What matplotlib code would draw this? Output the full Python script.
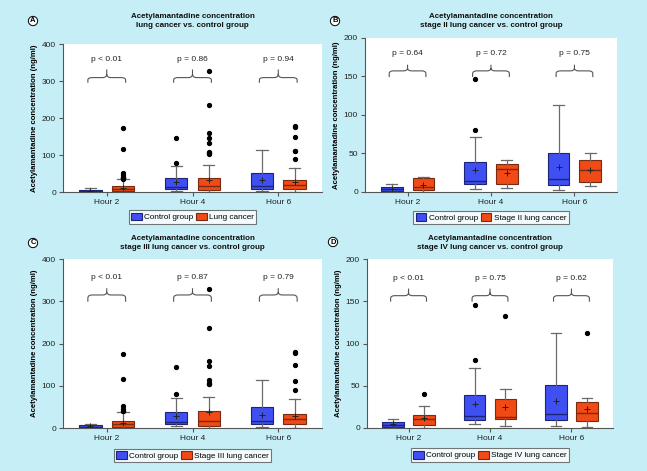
import matplotlib
matplotlib.use("Agg")
import matplotlib.pyplot as plt
from matplotlib.path import Path
from matplotlib.patches import PathPatch, Patch

plt.rcParams['font.family'] = ['Liberation Sans', 'DejaVu Sans']

# ---------------- data ----------------
hours = ["Hour 2", "Hour 4", "Hour 6"]

# control group (same in every panel)
ctrl_whislo = [0.5, 4.5, 2.5]
ctrl_q1 = [1.5, 10, 9.5]
ctrl_med = [3.5, 14, 17]
ctrl_q3 = [7, 39, 51]
ctrl_whishi = [11, 71, 113]
ctrl_mean = [4.5, 28.5, 32]
ctrl_fliers = [[], [80, 146], []]

# A: all lung cancer
lc_whislo = [0.5, 1, 2]
lc_q1 = [3, 6, 9]
lc_med = [8, 18, 21]
lc_q3 = [16, 38, 34]
lc_whishi = [35, 75, 67]
lc_mean = [12, 34, 29]
lc_fliers = [[173, 116, 53, 47, 42, 40, 39, 38, 37],
             [328, 236, 159, 148, 132, 110, 107, 105, 103],
             [180, 177, 150, 112, 111, 90]]
lc_p = ["p < 0.01", "p = 0.86", "p = 0.94"]

# B: stage II
s2_whislo = [0, 4.7, 8]
s2_q1 = [2, 10.6, 12.4]
s2_med = [6.3, 29.7, 28]
s2_q3 = [17.6, 36, 41.3]
s2_whishi = [20, 41, 51]
s2_mean = [9, 24.5, 28]
s2_fliers = [[], [], []]
s2_p = ["p = 0.64", "p = 0.72", "p = 0.75"]

# C: stage III
s3_whislo = [0.5, 1, 1.5]
s3_q1 = [4, 6, 9.5]
s3_med = [10, 17, 22]
s3_q3 = [18, 41, 33]
s3_whishi = [38, 75, 68.5]
s3_mean = [12, 38, 30]
s3_fliers = [[175, 116, 53, 46, 42, 40],
             [329, 237, 160, 148, 113, 106, 104, 104],
             [180, 177, 150, 112, 90]]
s3_p = ["p < 0.01", "p = 0.87", "p = 0.79"]

# D: stage IV
s4_whislo = [0, 2.4, 1]
s4_q1 = [3.2, 10.6, 7.7]
s4_med = [11, 13.3, 18]
s4_q3 = [15.4, 34.3, 30.6]
s4_whishi = [26, 46, 35.6]
s4_mean = [12, 25, 22.7]
s4_fliers = [[40.6], [132], [112]]
s4_p = ["p < 0.01", "p = 0.75", "p = 0.62"]

BG = "#c6eef6"
BLUE = "#3f4ff2"
BLUE_E = "#1c2478"
RED = "#f04a16"
RED_E = "#7a2a10"
GRAY = "#6a6a6a"

fig = plt.figure(figsize=(6.47, 4.71), dpi=100, facecolor=BG)
W, H = 647.0, 471.0


def stats(wl, q1, med, q3, wh, mean, fl):
    return [dict(whislo=wl[i], q1=q1[i], med=med[i], q3=q3[i], whishi=wh[i],
                 mean=mean[i], fliers=fl[i]) for i in range(len(wl))]


def brace(ax, x0, x1, yh, yend, ytip):
    xm = (x0 + x1) / 2
    r = 0.05
    dy1 = (yh - yend)
    dy2 = (ytip - yh)
    verts = [(x0, yend), (x0, yh - dy1 * 0.45), (x0, yh), (x0 + r, yh),
             (xm - r, yh), (xm, yh), (xm, yh + dy2 * 0.45), (xm, ytip),
             (xm, yh + dy2 * 0.45), (xm, yh), (xm + r, yh),
             (x1 - r, yh), (x1, yh), (x1, yh - dy1 * 0.45), (x1, yend)]
    codes = [Path.MOVETO, Path.LINETO, Path.CURVE3, Path.CURVE3,
             Path.LINETO, Path.CURVE3, Path.CURVE3, Path.LINETO,
             Path.MOVETO, Path.CURVE3, Path.CURVE3,
             Path.LINETO, Path.CURVE3, Path.CURVE3, Path.LINETO]
    ax.add_patch(PathPatch(Path(verts, codes), fill=False, edgecolor="#555555",
                           lw=0.8))


def panel(rect, letter, letter_xy, title, ymax, ystep, cancer_stats, pvals,
          cancer_label, br, title_y):
    ax = fig.add_axes(rect)
    ax.set_facecolor("white")
    pos = [0, 1, 2]
    off = 0.19
    w = 0.26
    cs = stats(ctrl_whislo, ctrl_q1, ctrl_med, ctrl_q3, ctrl_whishi, ctrl_mean, ctrl_fliers)
    for st, shift, fc, ec in [(cs, -off, BLUE, BLUE_E), (cancer_stats, off, RED, RED_E)]:
        ax.bxp(st, positions=[p + shift for p in pos], widths=w, patch_artist=True,
               showmeans=True, manage_ticks=False,
               boxprops=dict(facecolor=fc, edgecolor=ec, lw=0.8),
               medianprops=dict(color=ec, lw=1.0),
               whiskerprops=dict(color=GRAY, lw=0.9),
               capprops=dict(color=GRAY, lw=0.9),
               capwidths=w * 0.5,
               meanprops=dict(marker="+", markeredgecolor="#222222", markersize=4,
                              markeredgewidth=0.7),
               flierprops=dict(marker="o", markerfacecolor="black",
                               markeredgecolor="black", markersize=2.8))
    ax.set_xlim(-0.51, 2.51)
    ax.set_ylim(0, ymax)
    ax.set_xticks(pos)
    ax.set_xticklabels(hours)
    ax.set_yticks(range(0, ymax + 1, ystep))
    for s in ["top", "right"]:
        ax.spines[s].set_visible(False)
    for s in ["left", "bottom"]:
        ax.spines[s].set_color("#555555")
        ax.spines[s].set_linewidth(0.8)
    ax.tick_params(axis="both", colors="#555555", labelcolor="#222222",
                   labelsize=6.0, length=3, width=0.8, pad=2)
    ax.set_ylabel("Acetylamantadine concentration (ng/ml)", fontsize=5.6,
                  fontweight="bold", labelpad=3)
    yh, yend, ytip, ytxt = br
    for i, p in enumerate(pos):
        brace(ax, p - 0.22, p + 0.22, yh, yend, ytip)
        ax.text(p, ytxt, pvals[i], ha="center", va="center", fontsize=6.0,
                color="#222222")
    handles = [Patch(facecolor=BLUE, edgecolor=BLUE_E, lw=0.8),
               Patch(facecolor=RED, edgecolor=RED_E, lw=0.8)]
    leg = ax.legend(handles, ["Control group", cancer_label], loc="upper center",
                    bbox_to_anchor=(0.5, -0.12), ncol=2, fontsize=5.9,
                    frameon=True, fancybox=False, edgecolor="#555555",
                    handlelength=1.3, handleheight=1.1, handletextpad=0.3,
                    columnspacing=0.3, borderpad=0.3, borderaxespad=0)
    leg.get_frame().set_linewidth(0.8)
    cx = rect[0] + rect[2] / 2
    fig.text(cx, title_y, title, ha="center", va="center", fontsize=5.8,
             fontweight="bold", linespacing=1.5, color="#111111")
    fig.text(letter_xy[0] / W, 1 - letter_xy[1] / H, letter, ha="center",
             va="center", fontsize=5.5, fontweight="bold",
             bbox=dict(boxstyle="circle,pad=0.15", facecolor="white",
                       edgecolor="black", lw=0.7))
    return ax


def rect(l, r, t, b):
    return [l / W, 1 - b / H, (r - l) / W, (b - t) / H]


panel(rect(63, 322, 44.3, 192.3), "A", (33, 21),
      "Acetylamantadine concentration\nlung cancer vs. control group", 400, 100,
      stats(lc_whislo, lc_q1, lc_med, lc_q3, lc_whishi, lc_mean, lc_fliers),
      lc_p, "Lung cancer", (310, 296, 332, 360), 1 - 21 / H)

panel(rect(365, 617, 37.7, 192), "B", (335, 21),
      "Acetylamantadine concentration\nstage II lung cancer vs. control group", 200, 50,
      stats(s2_whislo, s2_q1, s2_med, s2_q3, s2_whishi, s2_mean, s2_fliers),
      s2_p, "Stage II lung cancer", (157, 149, 165, 180), 1 - 21 / H)

panel(rect(63, 322, 259, 428.3), "C", (33, 243),
      "Acetylamantadine concentration\nstage III lung cancer vs. control group", 400, 100,
      stats(s3_whislo, s3_q1, s3_med, s3_q3, s3_whishi, s3_mean, s3_fliers),
      s3_p, "Stage III lung cancer", (315, 299, 331, 356), 1 - 243 / H)

panel(rect(367, 613, 259, 428), "D", (333, 242),
      "Acetylamantadine concentration\nstage IV lung cancer vs. control group", 200, 50,
      stats(s4_whislo, s4_q1, s4_med, s4_q3, s4_whishi, s4_mean, s4_fliers),
      s4_p, "Stage IV lung cancer", (156.6, 149.5, 165, 177), 1 - 243 / H)

fig.savefig("out.png", dpi=100, facecolor=BG)
